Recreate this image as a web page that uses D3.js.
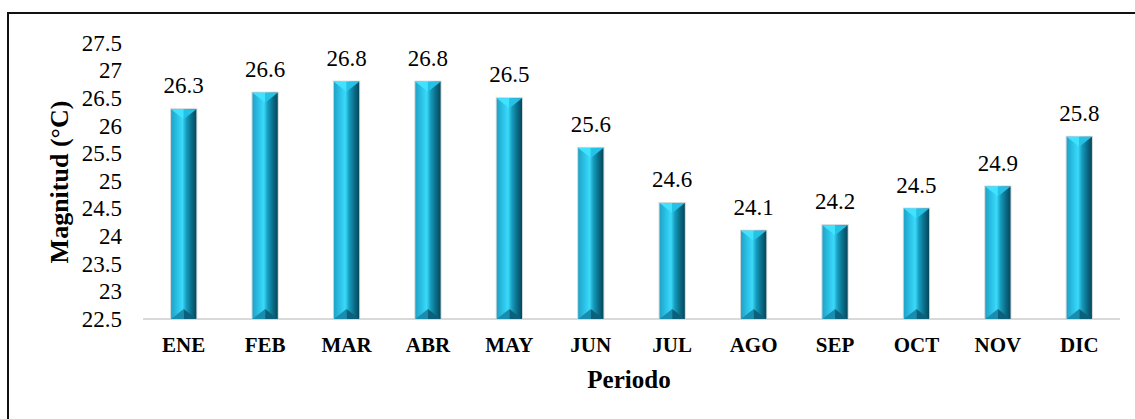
<!DOCTYPE html>
<html>
<head>
<meta charset="utf-8">
<script src="https://cdn.jsdelivr.net/npm/d3@7"></script>
<style>
  body { margin: 0; background: #fff; }
</style>
</head>
<body>
<svg width="1135" height="419"></svg>
<script>
var meses = ['ENE','FEB','MAR','ABR','MAY','JUN','JUL','AGO','SEP','OCT','NOV','DIC'];
var valores = [26.3, 26.6, 26.8, 26.8, 26.5, 25.6, 24.6, 24.1, 24.2, 24.5, 24.9, 25.8];
var ticksY = [22.5, 23, 23.5, 24, 24.5, 25, 25.5, 26, 26.5, 27, 27.5];

var fuente = '"Liberation Serif", "Times New Roman", serif';
var svg = d3.select('svg');

// marco del grafico
svg.append('rect')
    .attr('x', 8).attr('y', 13)
    .attr('width', 1140).attr('height', 420)
    .attr('fill', 'none')
    .attr('stroke', '#111')
    .attr('stroke-width', 2);

var ScaleX = d3.scaleBand().domain(meses).range([143, 1120]).paddingInner(0.69).paddingOuter(0.345);
var ScaleY = d3.scaleLinear().domain([22.5, 27.5]).range([319, 43]);

// gradiente de la columna
var defs = svg.append('defs');
var grad = defs.append('linearGradient').attr('id', 'cuerpo')
    .attr('x1', '0%').attr('x2', '100%').attr('y1', '0%').attr('y2', '0%');
[[0, '#1ea3c7'], [0.3, '#2ec8ed'], [0.45, '#3cd9f8'], [0.6, '#169dbf'], [0.8, '#0b6f8a'], [1, '#06475a']]
    .forEach(function(s){
        grad.append('stop').attr('offset', s[0]).attr('stop-color', s[1]);
    });

// eje Y (solo etiquetas)
var ejeY = svg.append('g')
    .attr('transform', 'translate(122,0)')
    .call(d3.axisLeft(ScaleY).tickValues(ticksY).tickSize(0).tickPadding(0)
        .tickFormat(function(d){ return String(d); }));
ejeY.select('.domain').remove();
ejeY.attr('font-family', null);
ejeY.selectAll('text')
    .style('font-family', fuente)
    .style('font-size', '23px')
    .attr('fill', '#000');

// linea base
svg.append('line')
    .attr('x1', 143).attr('x2', 1120)
    .attr('y1', ScaleY(22.5)).attr('y2', ScaleY(22.5))
    .attr('stroke', '#d9d9d9').attr('stroke-width', 2);

// columnas
var w = ScaleX.bandwidth();
var d0 = 10;
var barras = svg.selectAll('.barra')
    .data(meses.map(function(m, i){ return {mes: m, valor: valores[i]}; }))
    .enter()
    .append('g')
    .attr('class', 'barra');

barras.append('rect')
    .attr('x', function(d){ return ScaleX(d.mes) - 1; })
    .attr('y', function(d){ return ScaleY(d.valor) - 1; })
    .attr('width', w + 2)
    .attr('height', function(d){ return ScaleY(22.5) - ScaleY(d.valor) + 1; })
    .attr('fill', '#cfd6da');

barras.append('rect')
    .attr('x', function(d){ return ScaleX(d.mes); })
    .attr('y', function(d){ return ScaleY(d.valor); })
    .attr('width', w)
    .attr('height', function(d){ return ScaleY(22.5) - ScaleY(d.valor); })
    .attr('fill', 'url(#cuerpo)');

function tri(d, cual){
    var x = ScaleX(d.mes), yt = ScaleY(d.valor), yb = ScaleY(22.5);
    if (cual == 'tl') return [[x, yt], [x + w / 2, yt], [x + w / 2, yt + d0]];
    if (cual == 'tr') return [[x + w / 2, yt], [x + w, yt], [x + w / 2, yt + d0]];
    if (cual == 'bl') return [[x, yb], [x + w / 2, yb], [x + w / 2, yb - d0]];
    return [[x + w / 2, yb], [x + w, yb], [x + w / 2, yb - d0]];
}
var caras = {tl: '#40e2ff', tr: '#24c2e6', bl: '#1a8cad', br: '#0d6079'};
Object.keys(caras).forEach(function(k){
    barras.append('path')
        .attr('d', function(d){ return 'M' + tri(d, k).join('L') + 'Z'; })
        .attr('fill', caras[k]);
});

// etiquetas de valor
barras.append('text')
    .attr('x', function(d){ return ScaleX(d.mes) + w / 2; })
    .attr('y', function(d){ return ScaleY(d.valor) - 16; })
    .attr('text-anchor', 'middle')
    .style('font-family', fuente)
    .style('font-size', '23px')
    .text(function(d){ return d.valor.toFixed(1); });

// eje X (etiquetas)
var ejeX = svg.append('g')
    .attr('transform', 'translate(0,319)')
    .call(d3.axisBottom(ScaleX).tickSize(0).tickPadding(0));
ejeX.select('.domain').remove();
ejeX.attr('font-family', null);
ejeX.selectAll('text')
    .attr('dy', null)
    .attr('y', 33)
    .style('font-family', fuente)
    .style('font-size', '21px')
    .style('font-weight', 'bold')
    .attr('fill', '#000');

// titulos de ejes
svg.append('text')
    .attr('x', 629).attr('y', 388)
    .attr('text-anchor', 'middle')
    .style('font-family', fuente)
    .style('font-size', '25px')
    .style('font-weight', 'bold')
    .text('Periodo');

svg.append('text')
    .attr('transform', 'translate(68,182) rotate(-90)')
    .attr('text-anchor', 'middle')
    .style('font-family', fuente)
    .style('font-size', '26px')
    .style('font-weight', 'bold')
    .text('Magnitud (°C)');
</script>
</body>
</html>
